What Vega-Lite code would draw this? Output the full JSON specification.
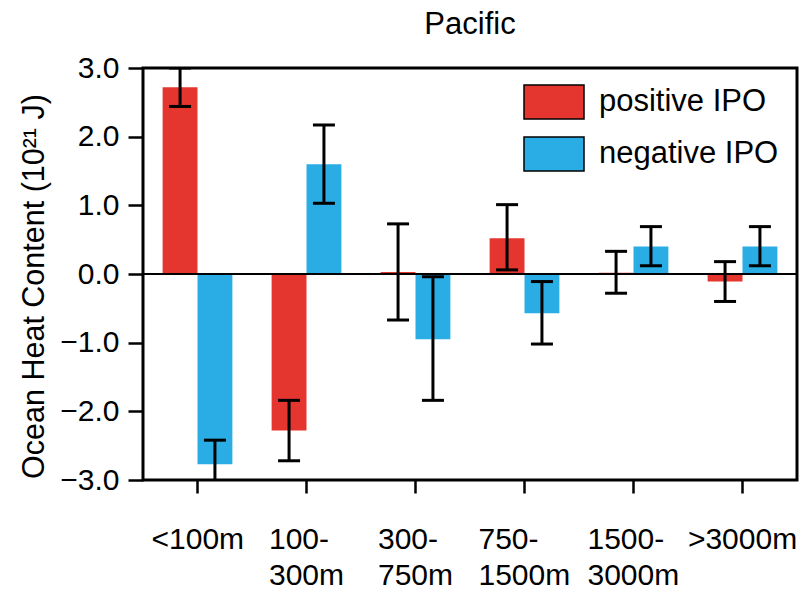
{
  "$schema": "https://vega.github.io/schema/vega-lite/v6.json",
  "width": 654,
  "height": 412,
  "autosize": {"type": "none"},
  "padding": {"left": 143, "top": 68, "right": 15, "bottom": 110},
  "background": "white",
  "title": {"text": "Pacific", "fontSize": 31, "font": "Liberation Sans", "fontWeight": "normal", "anchor": "middle", "baseline": "alphabetic", "offset": 24, "dy": 36, "color": "black"},
  "config": {
    "view": {"stroke": "black", "strokeWidth": 3},
    "font": "Liberation Sans"
  },
  "data": {
    "values": [
      {"depth": "<100m", "phase": "positive IPO", "value": 2.72, "lo": 2.44, "hi": 3.0},
      {"depth": "<100m", "phase": "negative IPO", "value": -2.77, "lo": -3.12, "hi": -2.42},
      {"depth": "100-300m", "phase": "positive IPO", "value": -2.28, "lo": -2.72, "hi": -1.84},
      {"depth": "100-300m", "phase": "negative IPO", "value": 1.6, "lo": 1.03, "hi": 2.17},
      {"depth": "300-750m", "phase": "positive IPO", "value": 0.03, "lo": -0.67, "hi": 0.73},
      {"depth": "300-750m", "phase": "negative IPO", "value": -0.95, "lo": -1.84, "hi": -0.04},
      {"depth": "750-1500m", "phase": "positive IPO", "value": 0.52, "lo": 0.06, "hi": 1.01},
      {"depth": "750-1500m", "phase": "negative IPO", "value": -0.57, "lo": -1.02, "hi": -0.11},
      {"depth": "1500-3000m", "phase": "positive IPO", "value": 0.02, "lo": -0.28, "hi": 0.33},
      {"depth": "1500-3000m", "phase": "negative IPO", "value": 0.4, "lo": 0.12, "hi": 0.69},
      {"depth": ">3000m", "phase": "positive IPO", "value": -0.11, "lo": -0.4, "hi": 0.18},
      {"depth": ">3000m", "phase": "negative IPO", "value": 0.4, "lo": 0.12, "hi": 0.69}
    ]
  },
  "layer": [
    {
      "mark": {"type": "bar", "clip": true},
      "encoding": {
        "x": {
          "field": "depth", "type": "nominal",
          "sort": ["<100m", "100-300m", "300-750m", "750-1500m", "1500-3000m", ">3000m"],
          "scale": {"paddingInner": 0.36, "paddingOuter": 0.18},
          "axis": {
            "orient": "bottom",
            "title": null, "domain": false, "grid": false, "labelAngle": 0,
            "tickSize": 13, "tickWidth": 2.5, "tickColor": "black",
            "labelFontSize": 30, "labelColor": "black", "labelFont": "Liberation Sans",
            "labelBaseline": "alphabetic", "labelPadding": 55, "labelLineHeight": 36,
            "labelAlign": "left", "labelOverlap": false, "labelLimit": 300,
            "labelOffset": {
              "condition": [
                {"test": "datum.value == '<100m'", "value": -46},
                {"test": "datum.value == '100-300m'", "value": -37.5},
                {"test": "datum.value == '300-750m'", "value": -37.5},
                {"test": "datum.value == '750-1500m'", "value": -46},
                {"test": "datum.value == '1500-3000m'", "value": -46}
              ],
              "value": -54.6
            },
            "labelExpr": "datum.value == '100-300m' ? ['100-', '300m'] : datum.value == '300-750m' ? ['300-', '750m'] : datum.value == '750-1500m' ? ['750-', '1500m'] : datum.value == '1500-3000m' ? ['1500-', '3000m'] : datum.label"
          }
        },
        "xOffset": {"field": "phase", "type": "nominal", "scale": {"domain": ["positive IPO", "negative IPO"], "paddingInner": 0, "paddingOuter": 0}},
        "y": {
          "field": "value", "type": "quantitative",
          "scale": {"domain": [-3, 3], "nice": false, "zero": false},
          "axis": {
            "orient": "left",
            "title": "Ocean Heat Content (10²¹ J)",
            "titleFontSize": 30.5, "titleFont": "Liberation Sans", "titleFontWeight": "normal", "titleColor": "black",
            "titleAngle": -90, "titleX": -100, "titleY": 218, "titleAlign": "center", "titleBaseline": "alphabetic",
            "values": [-3, -2, -1, 0, 1, 2, 3],
            "format": ".1f",
            "grid": false, "domain": false, "ticks": true,
            "tickSize": 15, "tickWidth": 2.5, "tickColor": "black", "tickOpacity": 1,
            "labelFontSize": 30, "labelColor": "black", "labelFont": "Liberation Sans", "labelPadding": 9
          }
        },
        "color": {
          "field": "phase", "type": "nominal",
          "scale": {"domain": ["positive IPO", "negative IPO"], "range": ["#e5352f", "#2aade5"]},
          "legend": {
            "title": null, "orient": "none", "legendX": 380, "legendY": 3, "padding": 0,
            "symbolType": "M-1,-0.567H1V0.567H-1Z", "symbolSize": 3600,
            "symbolStrokeColor": "black", "symbolStrokeWidth": 1.5, "symbolOpacity": 1,
            "labelFontSize": 31, "labelFont": "Liberation Sans", "labelColor": "black", "labelLimit": 400,
            "labelOffset": 14, "rowPadding": -6,
            "encode": {"symbols": {"update": {"stroke": {"value": "black"}, "strokeWidth": {"value": 1.5}}}}
          }
        }
      }
    },
    {
      "mark": {"type": "rule", "color": "black", "strokeWidth": 1.5},
      "encoding": {"y": {"datum": 0, "type": "quantitative"}}
    },
    {
      "mark": {"type": "rule", "color": "black", "strokeWidth": 3, "clip": true},
      "encoding": {
        "x": {"field": "depth", "type": "nominal", "sort": ["<100m", "100-300m", "300-750m", "750-1500m", "1500-3000m", ">3000m"]},
        "xOffset": {"field": "phase", "type": "nominal"},
        "y": {"field": "lo", "type": "quantitative"},
        "y2": {"field": "hi"}
      }
    },
    {
      "mark": {"type": "tick", "color": "black", "thickness": 3, "size": 22, "clip": true, "opacity": 1},
      "encoding": {
        "x": {"field": "depth", "type": "nominal", "sort": ["<100m", "100-300m", "300-750m", "750-1500m", "1500-3000m", ">3000m"]},
        "xOffset": {"field": "phase", "type": "nominal"},
        "y": {"field": "lo", "type": "quantitative"}
      }
    },
    {
      "mark": {"type": "tick", "color": "black", "thickness": 3, "size": 22, "clip": true, "opacity": 1},
      "encoding": {
        "x": {"field": "depth", "type": "nominal", "sort": ["<100m", "100-300m", "300-750m", "750-1500m", "1500-3000m", ">3000m"]},
        "xOffset": {"field": "phase", "type": "nominal"},
        "y": {"field": "hi", "type": "quantitative"}
      }
    }
  ]
}
